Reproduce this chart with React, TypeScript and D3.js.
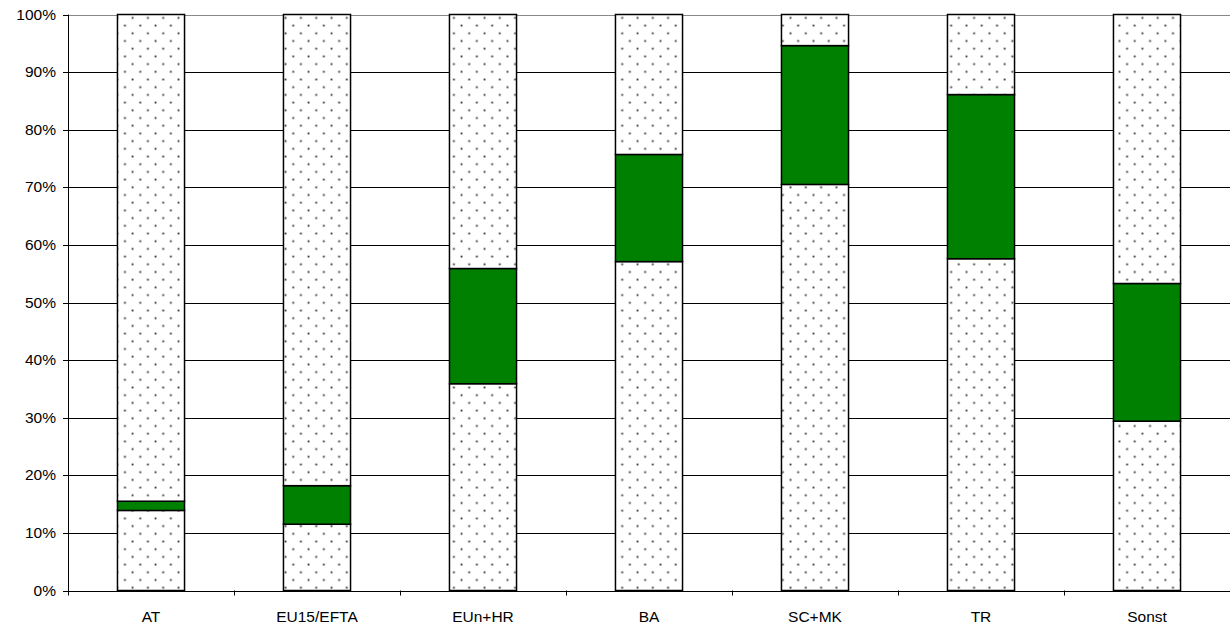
import React from "react";
import * as d3 from "d3";

const categories = ["AT", "EU15/EFTA", "EUn+HR", "BA", "SC+MK", "TR", "Sonst"];
// cumulative boundaries in percent
const lowerShare = [13.9, 11.5, 35.9, 57.1, 70.5, 57.6, 29.4];
const greenShare = [1.6, 6.7, 20.0, 18.6, 24.1, 28.5, 23.9];
const yTicks = [0, 10, 20, 30, 40, 50, 60, 70, 80, 90, 100];

const W = 1230;
const H = 630;
const left = 68;
const right = 1230;
const top = 14.5;
const bottom = 590.5;

export default function App() {
  const x = d3.scaleBand<string>().domain(categories).range([left, right]).paddingInner(0.596).paddingOuter(0.298);
  const y = d3.scaleLinear().domain([0, 100]).range([bottom, top]);
  const bw = x.bandwidth();
  const step = x.step();
  const segs = categories.map((c, i) => {
    const a = lowerShare[i];
    const b = a + greenShare[i];
    return [
      { c, y0: 0, y1: a, fill: "url(#dots)" },
      { c, y0: a, y1: b, fill: "#008000" },
      { c, y0: b, y1: 100, fill: "url(#dots)" },
    ];
  });
  const font = "'Liberation Sans', Arial, sans-serif";
  return (
    <svg width={W} height={H} style={{ position: "absolute", left: 0, top: 0 }} fontFamily={font}>
      <defs>
        <pattern id="dots" patternUnits="userSpaceOnUse" width={15.3} height={15.4} x={left} y={top}>
          <rect width={15.3} height={15.4} fill="#fff" />
          <rect x={2.5} y={2.5} width={1.8} height={1.8} fill="#333" />
          <rect x={10.15} y={10.2} width={1.8} height={1.8} fill="#333" />
        </pattern>
      </defs>
      {yTicks.map((t) => (
        <g key={t}>
          <line
            x1={left - 5}
            x2={t === 0 ? left : right}
            y1={Math.round(y(t)) + 0.5}
            y2={Math.round(y(t)) + 0.5}
            stroke={t === 100 ? "#888" : "#000"}
            strokeWidth={1}
          />
          <line x1={left - 5} x2={left} y1={Math.round(y(t)) + 0.5} y2={Math.round(y(t)) + 0.5} stroke="#000" />
          <text x={left - 12} y={y(t) + 5} textAnchor="end" fontSize={15.5} fill="#000">
            {t}%
          </text>
        </g>
      ))}
      <line x1={left + 0.5} x2={left + 0.5} y1={top} y2={bottom + 5} stroke="#000" />
      <line x1={left} x2={right} y1={Math.round(bottom) + 0.5} y2={Math.round(bottom) + 0.5} stroke="#000" />
      {categories.map((c, i) => (
        <line
          key={"t" + c}
          x1={left + step * (i + 1) + 0.5}
          x2={left + step * (i + 1) + 0.5}
          y1={bottom}
          y2={bottom + 5}
          stroke="#000"
        />
      ))}
      {segs.flat().map((s, k) => (
        <rect
          key={k}
          x={x(s.c)!}
          y={y(s.y1)}
          width={bw}
          height={y(s.y0) - y(s.y1)}
          fill={s.fill}
          stroke="#000"
          strokeWidth={1.5}
        />
      ))}
      {categories.map((c) => (
        <text key={"l" + c} x={x(c)! + bw / 2} y={622} textAnchor="middle" fontSize={15.5} fill="#000">
          {c}
        </text>
      ))}
    </svg>
  );
}
